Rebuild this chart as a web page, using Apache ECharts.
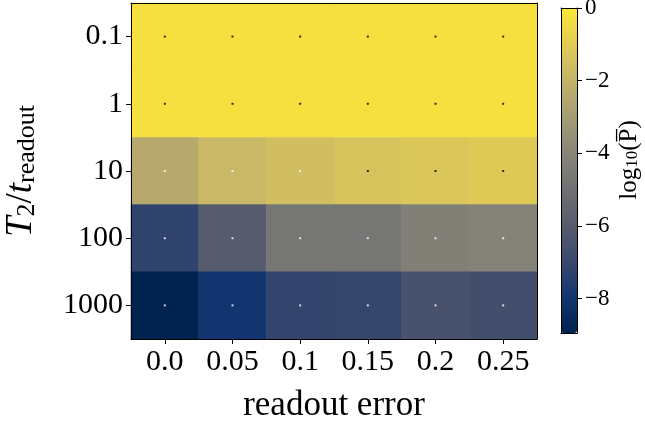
<!DOCTYPE html>
<html><head><meta charset="utf-8">
<script src="https://cdn.jsdelivr.net/npm/echarts@6/dist/echarts.min.js"></script>
<style>html,body{margin:0;padding:0;background:#fff}#c{width:645px;height:422px}</style>
</head><body><div id="c"></div>
<script>
const xLabels = ['0.0', '0.05', '0.1', '0.15', '0.2', '0.25'];
const yLabels = ['0.1', '1', '10', '100', '1000'];
// log10(P) values per row (T2/t_readout), columns follow xLabels
const row_0_1  = [-0.28, -0.28, -0.28, -0.28, -0.28, -0.28];
const row_1    = [-0.28, -0.28, -0.28, -0.28, -0.28, -0.28];
const row_10   = [-2.4, -1.8, -1.55, -1.35, -1.2, -1.1];
const row_100  = [-7.25, -6.0, -4.75, -4.75, -4.3, -4.2];
const row_1000 = [-8.95, -7.95, -7.15, -7.1, -6.5, -6.7];
const cbarTicks = [-8, -6, -4, -2, 0];
const vMin = -8.95, vMax = 0;

const rows = [row_0_1, row_1, row_10, row_100, row_1000];
const cividis = ['#00224e', '#123570', '#3b496c', '#575d6d', '#707173', '#8a8678', '#a59c74', '#c3b369', '#e1cc55', '#fee838'];
const heatData = [];
const dotData = [];
rows.forEach((r, yi) => r.forEach((v, xi) => {
  heatData.push([xi, yi, v]);
  dotData.push({ value: [xi, yi], itemStyle: { color: v > -1.4 ? '#000' : '#fff' } });
}));

const FONT = 'Liberation Serif';
const minus = s => String(s).replace('-', '\u2212');
const chart = echarts.init(document.getElementById('c'), null, { renderer: 'canvas' });
const hidden = { axisTick: { show: false }, axisLabel: { show: false }, splitLine: { show: false } };
const line = { show: true, onZero: false, lineStyle: { color: '#000', width: 1 } };
chart.setOption({
  animation: false,
  backgroundColor: '#fff',
  grid: [
    { left: 131, top: 3, width: 406, height: 336, containLabel: false, outerBoundsMode: 'none' },
    { left: 561, top: 8, width: 16, height: 325, containLabel: false, outerBoundsMode: 'none' }
  ],
  xAxis: [
    { type: 'category', gridIndex: 0, data: xLabels, position: 'bottom', z: 10,
      axisLine: line,
      axisTick: { show: true, alignWithLabel: true, length: 5, lineStyle: { color: '#000' } },
      axisLabel: { interval: 0, fontFamily: FONT, fontSize: 30, color: '#000', margin: 8, hideOverlap: false },
      splitLine: { show: false },
      name: 'readout error', nameLocation: 'middle', nameGap: 49,
      nameTextStyle: { fontFamily: FONT, fontSize: 35, color: '#000' } },
    Object.assign({ type: 'category', gridIndex: 0, data: xLabels, position: 'top', z: 10, axisLine: line }, hidden),
    Object.assign({ type: 'value', gridIndex: 1, min: 0, max: 1, position: 'bottom', z: 10, axisLine: line }, hidden),
    Object.assign({ type: 'value', gridIndex: 1, min: 0, max: 1, position: 'top', z: 10, axisLine: line }, hidden)
  ],
  yAxis: [
    { type: 'category', gridIndex: 0, data: yLabels, inverse: true, position: 'left', z: 10,
      axisLine: line,
      axisTick: { show: true, alignWithLabel: true, length: 5, lineStyle: { color: '#000' } },
      axisLabel: { interval: 0, fontFamily: FONT, fontSize: 30, color: '#000', margin: 8 },
      splitLine: { show: false },
      name: '{i|T}{s|2}{n|/}{i|t}{s|readout}', nameLocation: 'middle', nameGap: 91, nameRotate: 90,
      nameTextStyle: { color: '#000', rich: {
        i: { fontFamily: FONT, fontStyle: 'italic', fontSize: 37, color: '#000', verticalAlign: 'bottom', lineHeight: 43 },
        n: { fontFamily: FONT, fontSize: 37, color: '#000', verticalAlign: 'bottom', lineHeight: 43 },
        s: { fontFamily: FONT, fontSize: 26, color: '#000', verticalAlign: 'bottom', lineHeight: 36 }
      } } },
    Object.assign({ type: 'category', gridIndex: 0, data: yLabels, inverse: true, position: 'right', z: 10, axisLine: line }, hidden),
    { type: 'value', gridIndex: 1, min: vMin, max: vMax, position: 'right', z: 10,
      axisLine: line,
      axisTick: { show: true, length: 5, customValues: cbarTicks, lineStyle: { color: '#000' } },
      axisLabel: { show: true, customValues: cbarTicks, fontFamily: FONT, fontSize: 23, color: '#000', margin: 8,
        formatter: v => minus(v) },
      splitLine: { show: false } },
    Object.assign({ type: 'value', gridIndex: 1, min: vMin, max: vMax, position: 'left', z: 10, axisLine: line }, hidden)
  ],
  visualMap: {
    type: 'continuous', seriesIndex: 0, min: vMin, max: vMax, calculable: false,
    orient: 'vertical', left: 561, top: 8, itemWidth: 16, itemHeight: 325, padding: 0,
    text: null, showLabel: false, textStyle: { fontSize: 0 },
    inRange: { color: cividis }, hoverLink: false
  },
  graphic: [{
    type: 'text', x: 629, y: 160, rotation: Math.PI / 2, z: 20,
    style: {
      text: 'log{s|10}(P\u0305)', fill: '#000', fontFamily: FONT, fontSize: 25,
      align: 'center', verticalAlign: 'middle',
      rich: { s: { fontFamily: FONT, fontSize: 17, fill: '#000', verticalAlign: 'bottom', lineHeight: 25 } }
    }
  }],
  series: [
    { type: 'heatmap', xAxisIndex: 0, yAxisIndex: 0, data: heatData, itemStyle: { borderWidth: 0 }, emphasis: { disabled: true } },
    { type: 'scatter', xAxisIndex: 0, yAxisIndex: 0, data: dotData, symbol: 'rect', symbolSize: 2, z: 5, silent: true }
  ]
});
</script></body></html>
